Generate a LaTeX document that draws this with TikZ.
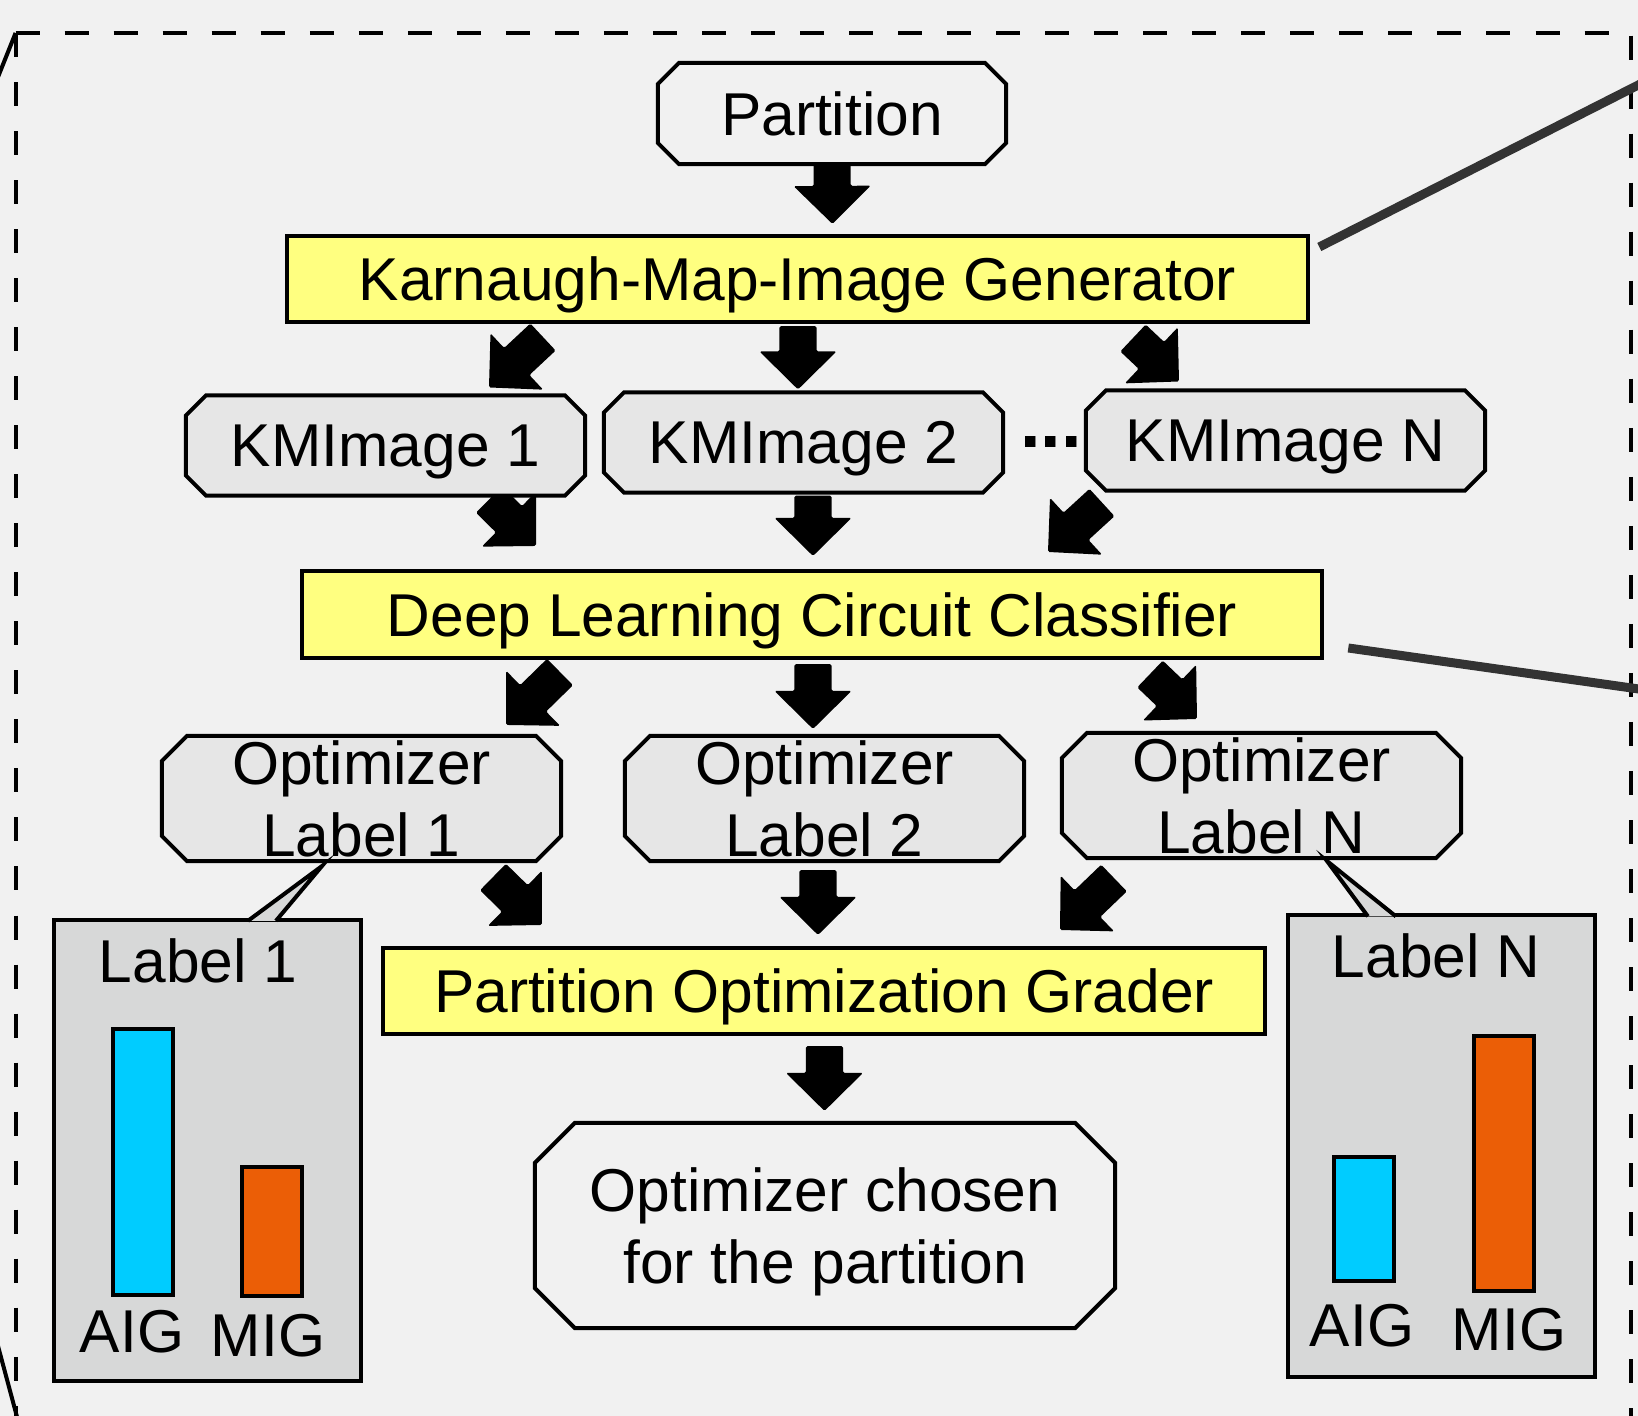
\documentclass[tikz,border=0pt]{standalone}
\usepackage{fontspec}
\setmainfont{Liberation Sans}
\usetikzlibrary{calc}
\definecolor{cbg}{HTML}{F1F1F1}
\definecolor{cyellow}{HTML}{FFFF80}
\definecolor{cbox}{HTML}{E6E6E6}
\definecolor{cpanel}{HTML}{D7D8D8}
\definecolor{ccyan}{HTML}{00CCFF}
\definecolor{corange}{HTML}{EB5E06}
\definecolor{clead}{HTML}{333333}
\pgfdeclarelayer{kback}
\pgfdeclarelayer{karrows}
\pgfdeclarelayer{kboxes}
\pgfsetlayers{kback,karrows,kboxes,main}
\newcommand{\kfont}{\fontsize{17.2}{20.5}\selectfont}
\tikzset{
  kline/.style={draw=black, line width=0.04cm},
  kgen/.style={kline, fill=cyellow, minimum height=0.86cm, inner sep=0pt,
               text depth=0pt, font=\kfont},
  kimg/.style={rectangle, minimum width=3.99cm, minimum height=1cm, inner sep=0pt,
               outer sep=0pt, text depth=0pt, align=center, font=\kfont},
  kopt/.style={kimg, minimum height=1.25cm},
  kpanel/.style={kline, fill=cpanel, minimum width=3.07cm, minimum height=4.61cm,
                 inner sep=0pt},
  ktxt/.style={inner sep=0pt, font=\kfont},
  klead/.style={draw=clead, line width=0.09cm},
  kframe/.style={draw=black, line width=0.04cm, dash pattern=on 0.24cm off 0.25cm},
}
% octagon frame round a node: name, chamfer (px), fill
\newcommand{\koct}[3]{%
  \draw[kline, fill=#3] ($(#1.north west)+(#2,0)$) -- ($(#1.north east)+(-#2,0)$)
    -- ($(#1.north east)+(0,#2)$) -- ($(#1.south east)+(0,-#2)$)
    -- ($(#1.south east)+(-#2,0)$) -- ($(#1.south west)+(#2,0)$)
    -- ($(#1.south west)+(0,-#2)$) -- ($(#1.north west)+(0,#2)$) -- cycle;}
% block arrow from tail to tip
\newcommand{\karrow}[2]{%
  \coordinate (kt) at #1;
  \coordinate (kp) at #2;
  \coordinate (kh) at ($(kp)!0.38cm!(kt)$);
  \fill[rounded corners=0.015cm] ($(kt)!0.185cm!90:(kp)$) -- ($(kh)!0.185cm!90:(kp)$)
    -- ($(kh)!0.385cm!90:(kp)$) -- (kp) -- ($(kh)!0.385cm!-90:(kp)$)
    -- ($(kh)!0.185cm!-90:(kp)$) -- ($(kt)!0.185cm!-90:(kp)$) -- cycle;}

\begin{document}
\begin{tikzpicture}[x=0.01cm, y=-0.01cm]
  \useasboundingbox (0,0) rectangle (1638,1416);
  \begin{pgfonlayer}{kback}
    \fill[cbg] (0,0) rectangle (1638,1416);
  \end{pgfonlayer}

  % --- dashed frame ---
  \draw[kframe] (15.6,33) -- (1631,33) -- (1631,1440);
  \draw[kframe] (15.6,33) -- (15.6,1440);
  \draw[kline] (15.6,33) -- (-4,82);
  \draw[kline] (-2,1346) -- (20,1428);

  % --- flow ---
  \node[kimg, minimum width=3.48cm, minimum height=1.01cm] (part) at (832,113.5) {Partition};
  \node[kgen, minimum width=10.21cm] (kmgen) at (797.5,279) {Karnaugh-Map-Image Generator};

  \node[kimg] (kmi1) at (385.5,445.5) {KMImage 1};
  \node[kimg] (kmi2) at (803.5,442.5) {KMImage 2};
  \node[kimg] (kmin) at (1285.5,440.5) {KMImage N};
  \node[ktxt, font=\fontsize{21}{21}\selectfont\bfseries] (dots) at (1051,442.5) {...};

  \node[kgen, minimum width=10.2cm, minimum height=0.87cm] (dlc) at (812,614.5) {Deep Learning Circuit Classifier};

  \node[kopt] (opt1) at (361.5,798.5) {Optimizer\\Label 1};
  \node[kopt] (opt2) at (824.5,798.5) {Optimizer\\Label 2};
  \node[kopt] (optn) at (1261.5,795.5) {Optimizer\\Label N};

  \node[kgen, minimum width=8.82cm] (grader) at (824,991) {Partition Optimization Grader};
  \node[kimg, minimum width=5.8cm, minimum height=2.05cm] (chosen) at (825,1225.5) {Optimizer chosen\\for the partition};

  \begin{pgfonlayer}{kboxes}
    \foreach \n/\c/\f in {part/21/cbg, kmi1/20/cbox, kmi2/20/cbox, kmin/20/cbox,
                          opt1/25/cbox, opt2/25/cbox, optn/25/cbox, chosen/40/cbg}
      {\koct{\n}{\c}{\f}}
  \end{pgfonlayer}

  % --- block arrows, under the boxes ---
  \begin{pgfonlayer}{karrows}
    \karrow{($(part.south)+(0,-4)$)}{($(kmgen.north)+(35,-10)$)}
    \karrow{($(kmgen.south)+(-254.5,13)$)}{($(kmi1.north)+(103.5,-8)$)}
    \karrow{($(kmgen.south)+(0.5,2)$)}{($(kmi2.north)+(-5.5,-3)$)}
    \karrow{($(kmgen.south)+(335.5,14)$)}{($(kmin.north)+(-106.5,-9)$)}
    \karrow{($(kmi1.south)+(103.5,4)$)}{($(dlc.north)+(-276,-23)$)}
    \karrow{($(kmi2.south)+(9.5,3)$)}{($(dlc.north)+(1,-13)$)}
    \karrow{($(kmin.south)+(-183.5,12)$)}{($(dlc.north)+(236,-17)$)}
    \karrow{($(dlc.south)+(-252,12)$)}{($(opt1.north)+(144.5,-11)$)}
    \karrow{($(dlc.south)+(1,4)$)}{($(opt2.north)+(-11.5,-7)$)}
    \karrow{($(dlc.south)+(338,14)$)}{($(optn.north)+(-64.5,-14)$)}
    \karrow{($(opt1.south)+(131.5,16)$)}{($(grader.north)+(-282,-21)$)}
    \karrow{($(opt2.south)+(-6.5,9)$)}{($(grader.north)+(-6,-11)$)}
    \karrow{($(optn.south)+(-147.5,20)$)}{($(grader.north)+(236,-16)$)}
    \karrow{($(grader.south)+(0.5,10)$)}{($(chosen.north)+(-0.5,-12)$)}
  \end{pgfonlayer}

  % --- label panels ---
  \node[kpanel] (lbl1) at (207.5,1150.5) {};
  \draw[kline, fill=cpanel] ($(lbl1.north west)+(196,3)$) -- ($(opt1.south)+(-39.5,5)$)
    -- ($(lbl1.north west)+(224,3)$);
  \node[ktxt] (lbl1t) at (198,961) {Label 1};
  \draw[kline, fill=ccyan] (113,1029) rectangle (173,1295);
  \draw[kline, fill=corange] (242,1167) rectangle (302,1296);
  \node[ktxt] (lbl1a) at (132,1332) {AIG};
  \node[ktxt] (lbl1m) at (268,1336) {MIG};

  \node[kpanel] (lbln) at (1441.5,1146) {};
  \draw[kline, fill=cpanel] ($(lbln.north west)+(82,3)$) -- ($(optn.south)+(65.5,3)$)
    -- ($(lbln.north west)+(110,3)$);
  \node[ktxt] (lblnt) at (1436,956) {Label N};
  \draw[kline, fill=ccyan] (1334,1157) rectangle (1394,1281);
  \draw[kline, fill=corange] (1474,1036) rectangle (1534,1291);
  \node[ktxt] (lblna) at (1362,1326) {AIG};
  \node[ktxt] (lblnm) at (1509,1330) {MIG};

  % --- leader lines to the right ---
  \coordinate (kmz) at (1660,74);
  \coordinate (dlz) at (1660,692);
  \draw[klead] ($(kmgen.east)+(9,-32)$) -- (kmz);
  \draw[klead] ($(dlc.east)+(24,33.5)$) -- (dlz);
\end{tikzpicture}
\end{document}
